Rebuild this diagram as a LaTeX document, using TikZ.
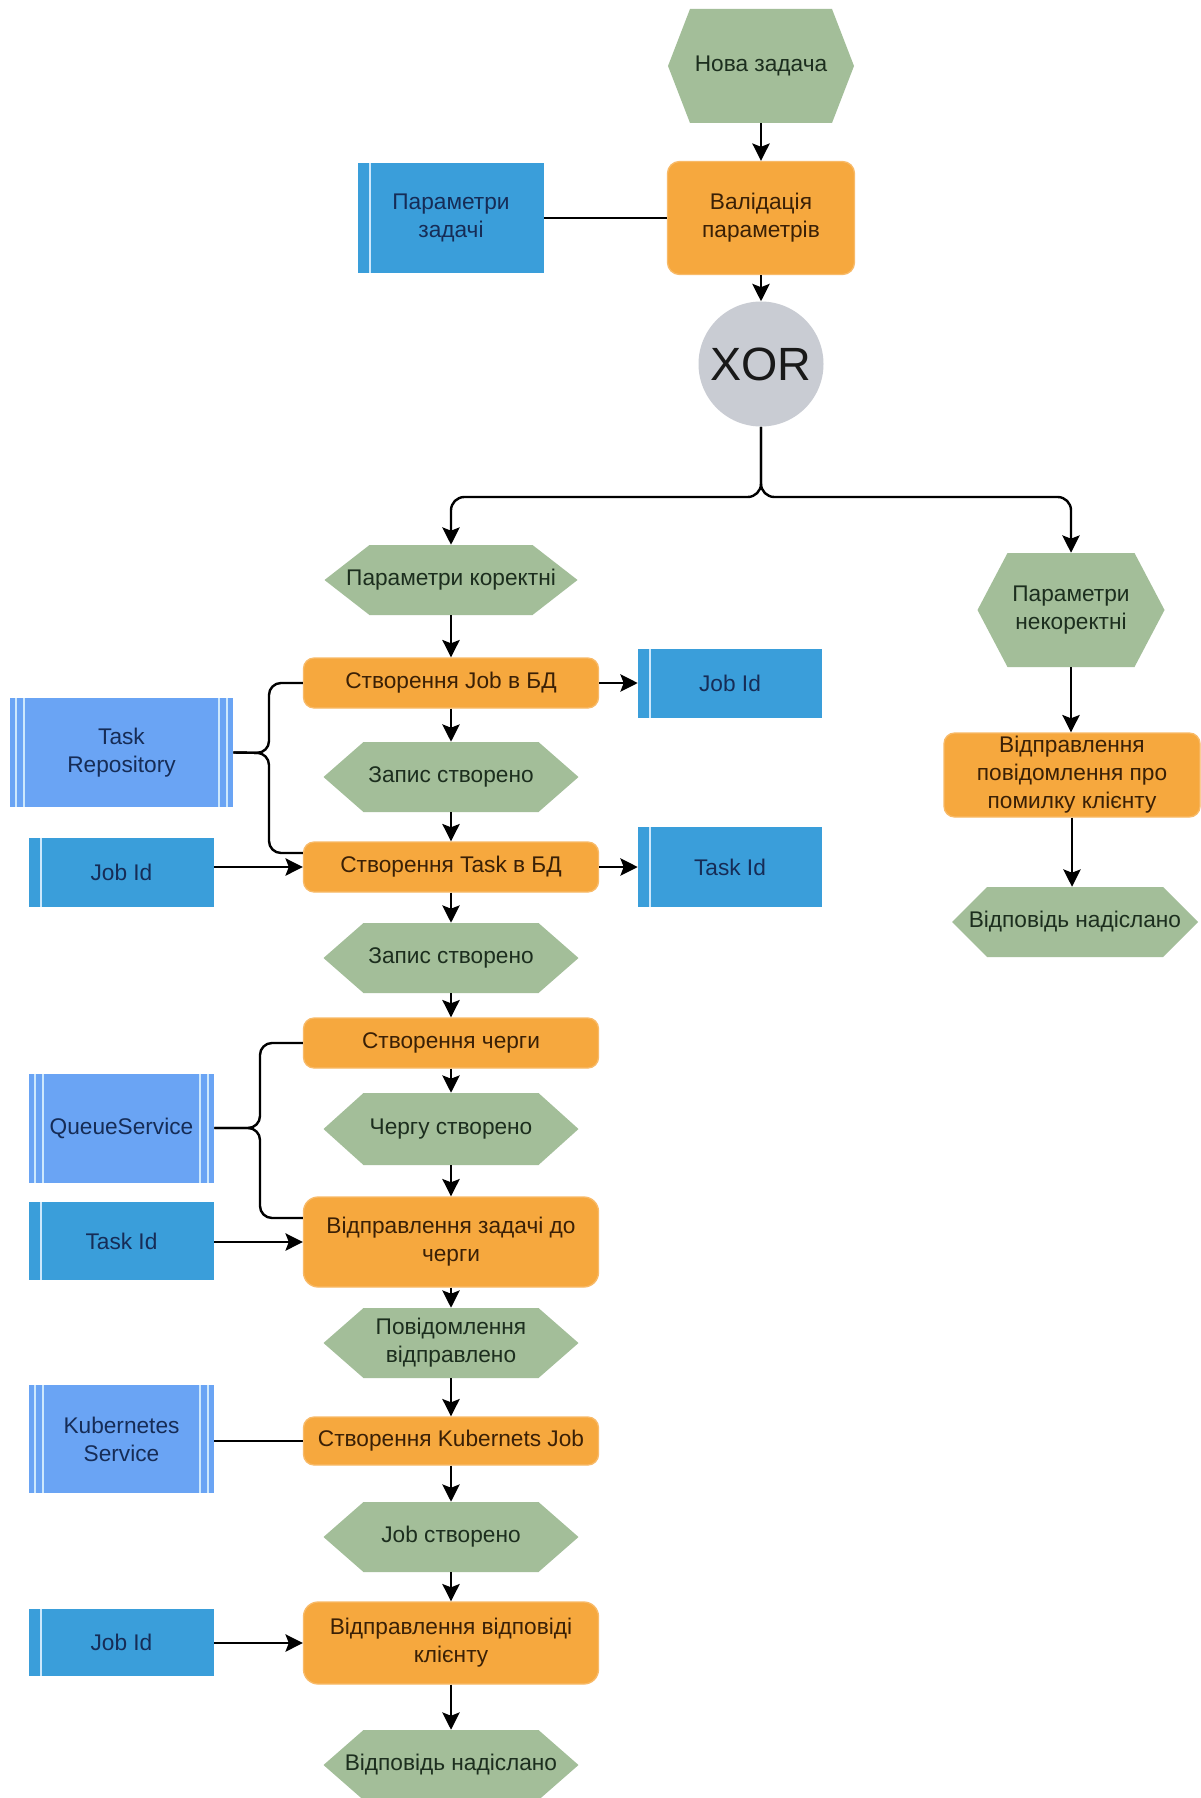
\documentclass[tikz,border=0pt]{standalone}
\usepackage{fontspec}
\setmainfont{Liberation Sans}
\usetikzlibrary{arrows.meta,calc}

\definecolor{evfill}{RGB}{163,190,153}
\definecolor{evtext}{RGB}{28,46,30}
\definecolor{fnfill}{RGB}{246,168,62}
\definecolor{fnedge}{RGB}{248,186,104}
\definecolor{fntext}{RGB}{58,32,6}
\definecolor{datafill}{RGB}{58,158,218}
\definecolor{svcfill}{RGB}{106,164,244}
\definecolor{boxtext}{RGB}{22,44,86}
\definecolor{stripe}{RGB}{205,232,252}
\definecolor{xorfill}{RGB}{201,204,211}

\tikzset{
  base/.style={inner sep=0pt, align=center, font=\fontsize{17}{21}\selectfont},
  % hexagonal event: width, height, depth of the side points (all in px)
  event/.style n args={3}{base, text=evtext,
    minimum width=#1*0.75pt, minimum height=#2*0.75pt,
    path picture={\fill[evfill]
      ([xshift=#3*0.75pt]path picture bounding box.north west) --
      ([xshift=-#3*0.75pt]path picture bounding box.north east) --
      (path picture bounding box.east) --
      ([xshift=-#3*0.75pt]path picture bounding box.south east) --
      ([xshift=#3*0.75pt]path picture bounding box.south west) --
      (path picture bounding box.west) -- cycle;}},
  func/.style 2 args={base, text=fntext, rectangle, rounded corners=8pt,
    fill=fnfill, draw=fnedge, line width=1pt,
    minimum width=#1*0.75pt, minimum height=#2*0.75pt},
  data/.style 2 args={base, text=boxtext, rectangle, fill=datafill,
    minimum width=#1*0.75pt, minimum height=#2*0.75pt,
    path picture={\draw[stripe, line width=1.3pt]
      ([xshift=9pt]path picture bounding box.north west) --
      ([xshift=9pt]path picture bounding box.south west);}},
  svc/.style 2 args={base, text=boxtext, rectangle, fill=svcfill,
    minimum width=#1*0.75pt, minimum height=#2*0.75pt,
    path picture={\draw[stripe, line width=1.1pt]
      ([xshift=4.5pt]path picture bounding box.north west) --
      ([xshift=4.5pt]path picture bounding box.south west)
      ([xshift=10.5pt]path picture bounding box.north west) --
      ([xshift=10.5pt]path picture bounding box.south west)
      ([xshift=-4.5pt]path picture bounding box.north east) --
      ([xshift=-4.5pt]path picture bounding box.south east)
      ([xshift=-10.5pt]path picture bounding box.north east) --
      ([xshift=-10.5pt]path picture bounding box.south east);}},
  gate/.style={circle, fill=xorfill, inner sep=0pt, minimum size=125*0.75pt,
    font=\fontsize{35}{40}\selectfont, text=black!90},
  flow/.style={line width=1.8pt, -{Stealth[length=13pt,width=13pt,inset=2.5pt]}},
  link/.style={line width=1.8pt}
}

\begin{document}
\begin{tikzpicture}[x=0.75pt, y=-0.75pt]
\useasboundingbox (0,0) rectangle (1201,1798);
\fill[white] (0,0) rectangle (1201,1798);

% upper part
\node[event={186}{114}{22}] (nova) at (761,66) {Нова задача};
\node[func={187}{113}, rounded corners=9pt] (valid) at (761,218) {Валідація\\параметрів};
\node[data={186}{109}] (params) at (451,218) {Параметри\\задачі};
\node[gate] (xor) at (761,364) {XOR};

% branch for invalid parameters
\node[event={187}{114}{30}] (nok) at (1071,610) {Параметри\\некоректні};
\node[func={256}{84}] (errmsg) at (1072,775) {Відправлення\\повідомлення про\\помилку клієнту};
\node[event={246}{70}{35}] (sent2) at (1075,922) {Відповідь надіслано};

% main branch
\node[event={253}{70}{45}] (ok) at (451,580) {Параметри коректні};
\node[func={295}{50}] (job) at (451,683) {Створення Job в БД};
\node[data={184}{69}] (jobidr) at (730,683) {Job Id};
\node[event={255}{70}{40}] (rec1) at (451,777) {Запис створено};
\node[func={295}{50}] (task) at (451,867) {Створення Task в БД};
\node[data={184}{80}] (taskidr) at (730,867) {Task Id};
\node[event={255}{70}{40}] (rec2) at (451,958) {Запис створено};
\node[func={295}{50}] (queue) at (451,1043) {Створення черги};
\node[event={255}{72}{40}] (qcr) at (451,1129) {Чергу створено};
\node[func={295}{90}, rounded corners=11pt] (send) at (451,1242) {Відправлення задачі до\\черги};
\node[event={255}{70}{40}] (msg) at (451,1343) {Повідомлення\\відправлено};
\node[func={295}{48}] (kjob) at (451,1441) {Створення Kubernets Job};
\node[event={255}{70}{40}] (jcr) at (451,1537) {Job створено};
\node[func={295}{82}, rounded corners=11pt] (reply) at (451,1643) {Відправлення відповіді\\клієнту};
\node[event={255}{70}{40}] (sent) at (451,1765) {Відповідь надіслано};

% resources on the left
\node[svc={223}{109}] (repo) at (121.5,752.5) {Task\\Repository};
\node[data={185}{69}] (jobidl) at (121.5,872) {Job Id};
\node[svc={185}{109}] (qsvc) at (121.5,1128) {QueueService};
\node[data={185}{78}] (taskidl) at (121.5,1241) {Task Id};
\node[svc={185}{108}] (ksvc) at (121.5,1439) {Kubernetes\\Service};
\node[data={185}{67}] (jobidl2) at (121.5,1642) {Job Id};

% control flow
\draw[flow] (nova) -- (valid);
\draw[link] (params) -- (valid);
\draw[flow] (valid) -- (xor);
\draw[flow, rounded corners=10pt] (xor.south) -- (761,497) -- (451,497) -- (ok.north);
\draw[flow, rounded corners=10pt] (xor.south) -- (761,497) -- (1071,497) -- (nok.north);
\draw[flow] (nok.south) -- (nok.south |- errmsg.north);
\draw[flow] (errmsg.south) -- (errmsg.south |- sent2.north);

\foreach \a/\b in {ok/job, job/rec1, rec1/task, task/rec2, rec2/queue,
                   queue/qcr, qcr/send, send/msg, msg/kjob, kjob/jcr,
                   jcr/reply, reply/sent}
  \draw[flow] (\a.south) -- (\b.north);

% outputs
\draw[flow] (job.east) -- (jobidr.west);
\draw[flow] (task.east) -- (taskidr.west);

% inputs
\draw[flow] (jobidl.east |- task) -- (task.west);
\draw[flow] (taskidl.east |- send) -- (send.west);
\draw[link] (ksvc.east |- kjob) -- (kjob.west);
\draw[flow] (jobidl2.east |- reply) -- (reply.west);

% shared services (brace connectors)
\draw[link, rounded corners=9pt] (job.west) -- (269,683) -- (269,753) -- (repo.east);
\draw[link, rounded corners=9pt] ($(task.west)+(0,-14)$) -- (269,853) -- (269,753) -- (repo.east);
\draw[link, rounded corners=9pt] (queue.west) -- (260,1043) -- (260,1128) -- (qsvc.east);
\draw[link, rounded corners=9pt] ($(send.west)+(0,-24)$) -- (260,1218) -- (260,1128) -- (qsvc.east);
\end{tikzpicture}
\end{document}
